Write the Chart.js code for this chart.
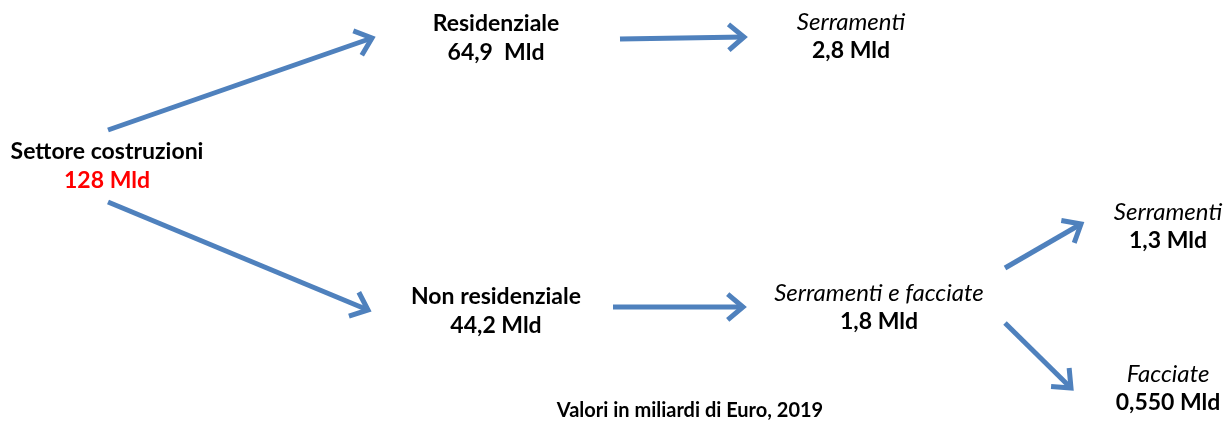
<!DOCTYPE html>
<html>
<head>
<meta charset="utf-8">
<script src="https://cdn.jsdelivr.net/npm/chart.js@4"></script>
<style>
  body { margin: 0; background: #fff; }
  #wrap { width: 1226px; height: 425px; }
</style>
</head>
<body>
<div id="wrap"><canvas id="canvas"></canvas></div>
<script>
// nodes of the flow
var nodeNames = ['Settore costruzioni', 'Residenziale', 'Serramenti', 'Non residenziale',
                 'Serramenti e facciate', 'Serramenti', 'Facciate'];
var nodeValues = [128, 64.9, 2.8, 44.2, 1.8, 1.3, 0.55];
var valueLabels = ['128 Mld', '64,9  Mld', '2,8 Mld', '44,2 Mld', '1,8 Mld', '1,3 Mld', '0,550 Mld'];
var italicNames = [false, false, true, false, true, true, true];
var footnote = 'Valori in miliardi di Euro, 2019';

// links: from node -> to node
var linkFrom = [0, 1, 0, 3, 4, 4];
var linkTo = [1, 2, 3, 4, 5, 6];

// layout (in scale units, x 0..1226, y 0..425 top-down)
var nodeX = [107, 496, 851, 496, 879, 1168, 1168];
var nodeY = [152, 24, 22, 297, 293, 212, 374];
var arrowStart = [[108, 130], [620, 39], [108, 202], [613, 307], [1005, 268], [1005, 323]];
var arrowEnd = [[372, 38], [744, 37], [368, 310], [743, 307], [1081, 224], [1071, 388]];

var blue = '#4f81bd';
var fontFam = 'Lato, "Open Sans", sans-serif';

var datasets = linkFrom.map(function(f, i) {
    return {
        type: 'line',
        label: nodeNames[f] + ' -> ' + nodeNames[linkTo[i]],
        data: [{x: arrowStart[i][0], y: arrowStart[i][1]}, {x: arrowEnd[i][0], y: arrowEnd[i][1]}],
        borderColor: blue,
        borderWidth: 5,
        borderCapStyle: 'butt',
        pointRadius: 0,
        fill: false,
        clip: false
    };
});
datasets.push({
    type: 'scatter',
    label: 'nodi',
    data: nodeX.map(function(x, i) { return {x: x, y: nodeY[i], v: nodeValues[i]}; }),
    pointRadius: 0
});

var arrowHeads = {
    id: 'arrowHeads',
    afterDatasetsDraw: function(chart) {
        var ctx = chart.ctx;
        ctx.save();
        ctx.strokeStyle = blue;
        ctx.lineWidth = 5;
        ctx.lineCap = 'butt';
        ctx.lineJoin = 'miter';
        for (var i = 0; i < linkFrom.length; i++) {
            var pts = chart.getDatasetMeta(i).data;
            var a = pts[0], b = pts[1];
            var ang = Math.atan2(b.y - a.y, b.x - a.x);
            var len = 20, spread = 0.7;
            ctx.beginPath();
            ctx.moveTo(b.x - len * Math.cos(ang - spread), b.y - len * Math.sin(ang - spread));
            ctx.lineTo(b.x, b.y);
            ctx.lineTo(b.x - len * Math.cos(ang + spread), b.y - len * Math.sin(ang + spread));
            ctx.stroke();
        }
        ctx.restore();
    }
};

var nodeLabels = {
    id: 'nodeLabels',
    afterDatasetsDraw: function(chart) {
        var ctx = chart.ctx;
        var xs = chart.scales.x, ys = chart.scales.y;
        ctx.save();
        ctx.textAlign = 'center';
        ctx.textBaseline = 'middle';
        var pts = chart.getDatasetMeta(datasets.length - 1).data;
        for (var i = 0; i < nodeNames.length; i++) {
            var p = pts[i];
            ctx.fillStyle = '#000';
            ctx.font = (italicNames[i] ? 'italic 24px ' : 'bold 23px ') + fontFam;
            ctx.fillText(nodeNames[i], p.x, p.y);
            ctx.fillStyle = i === 0 ? '#ff0000' : '#000';
            ctx.font = 'bold 23px ' + fontFam;
            ctx.fillText(valueLabels[i], p.x, p.y + 29);
        }
        ctx.fillStyle = '#000';
        ctx.font = 'bold 20px ' + fontFam;
        ctx.fillText(footnote, xs.getPixelForValue(690), ys.getPixelForValue(411));
        ctx.restore();
    }
};

var myChart = {
    type: 'scatter',
    data: { datasets: datasets },
    options: {
        responsive: true,
        maintainAspectRatio: false,
        animation: false,
        layout: { padding: 0 },
        scales: {
            x: { type: 'linear', display: false, min: 0, max: 1226 },
            y: { type: 'linear', display: false, min: 0, max: 425, reverse: true }
        },
        plugins: {
            legend: { display: false },
            tooltip: { enabled: false }
        }
    },
    plugins: [arrowHeads, nodeLabels]
};

window.onload = function() {
    var ctx = document.getElementById('canvas').getContext('2d');
    new Chart(ctx, myChart);
};
</script>
</body>
</html>
